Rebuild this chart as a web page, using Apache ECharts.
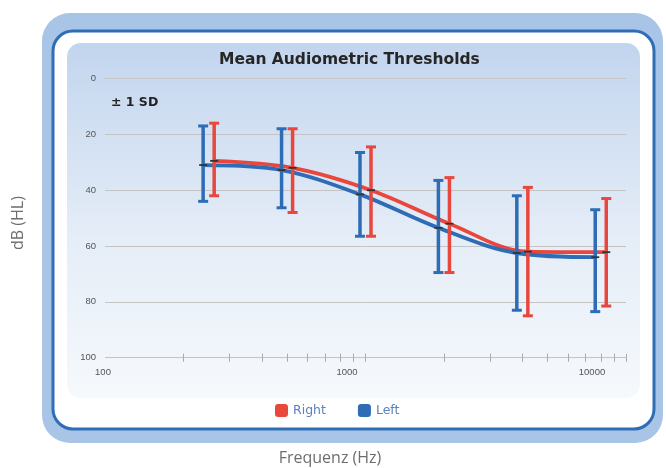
<!DOCTYPE html>
<html>
<head>
<meta charset="utf-8">
<script src="https://cdn.jsdelivr.net/npm/echarts@6/dist/echarts.min.js"></script>
<style>
html,body{margin:0;padding:0;background:#fff;}
#chart{width:666px;height:468px;}
</style>
</head>
<body>
<div id="chart"></div>
<script>
// ---- data ----
const freqs = [250, 500, 1000, 2000, 4000, 8000];
const rightMean = [29.5, 32, 40, 52, 62, 62.2];
const rightSdTop = [16, 18, 24.5, 35.5, 39, 43];
const rightSdBottom = [42, 48, 56.5, 69.5, 85, 81.5];
const leftMean = [31, 32.8, 41.5, 53.5, 62.5, 64];
const leftSdTop = [17, 18, 26.5, 36.5, 42, 47];
const leftSdBottom = [44, 46.3, 56.5, 69.5, 83, 83.5];
const xTickFreqs = [200, 300, 400, 500, 600, 700, 800, 900, 1000,
                    2000, 3000, 4000, 5000, 6000, 7000, 8000, 9000, 10000];
const xLabelValues = [100, 1000, 10000];
const yTicks = [0, 20, 40, 60, 80, 100];

const RED = '#e9463d';
const BLUE = '#2e6cb6';
const DODGE = 1.05;

const chart = echarts.init(document.getElementById('chart'));

function sdItems(means, tops, bottoms, factor) {
  return freqs.map((f, i) => [f * factor, tops[i], bottoms[i], means[i]]);
}
function makeRender(color) {
  return function (params, api) {
    const x = api.value(0);
    const top = api.coord([x, api.value(1)]);
    const bot = api.coord([x, api.value(2)]);
    const mid = api.coord([x, api.value(3)]);
    const cw = 5;
    return {
      type: 'group',
      children: [
        { type: 'line', shape: { x1: top[0], y1: top[1], x2: bot[0], y2: bot[1] },
          style: { stroke: color, lineWidth: 3.5 } },
        { type: 'line', shape: { x1: top[0] - cw, y1: top[1], x2: top[0] + cw, y2: top[1] },
          style: { stroke: color, lineWidth: 3 } },
        { type: 'line', shape: { x1: bot[0] - cw, y1: bot[1], x2: bot[0] + cw, y2: bot[1] },
          style: { stroke: color, lineWidth: 3 } },
        { type: 'line', shape: { x1: mid[0] - 4, y1: mid[1], x2: mid[0] + 4, y2: mid[1] },
          style: { stroke: '#333', lineWidth: 1.8 } }
      ]
    };
  };
}

const labelShift = { l0: 4, l1: 37, l2: 68 };
const rich = {};
Object.keys(labelShift).forEach(k => {
  rich[k] = { fontSize: 9.5, color: '#555', fontFamily: 'Liberation Sans', padding: [0, labelShift[k], 0, 0] };
});

const tickLogs = xTickFreqs.map(v => Math.log10(v));

const option = {
  animation: false,
  backgroundColor: '#fff',
  title: {
    text: 'Mean Audiometric Thresholds',
    left: 219, top: 52, padding: 0,
    textStyle: { fontFamily: 'DejaVu Sans', fontWeight: 'bold', fontSize: 15.5, color: '#262626' }
  },
  legend: {
    data: [
      { name: 'Right', itemStyle: { color: RED } },
      { name: 'Left', itemStyle: { color: BLUE } }
    ],
    icon: 'roundRect',
    left: 275, top: 404, padding: 0,
    itemWidth: 13, itemHeight: 13, itemGap: 32,
    textStyle: { color: '#5c80c0', fontSize: 12.5, fontFamily: 'DejaVu Sans' }
  },
  grid: { left: 105, right: 40, top: 78.5, bottom: 110.3 },
  xAxis: [
    {
      type: 'log', logBase: 10, min: 100, max: 10000,
      position: 'bottom',
      axisLine: { show: true, lineStyle: { color: '#c6c6c6', width: 1 } },
      axisTick: { show: false },
      splitLine: { show: false },
      axisLabel: {
        margin: 10,
        formatter: function (v) {
          const idx = Math.round(Math.log10(v)) - 2;
          if (xLabelValues.indexOf(Math.round(v)) < 0) return '';
          return '{l' + idx + '|' + Math.round(v) + '}';
        },
        rich: rich
      }
    },
    {
      type: 'value', min: 2, max: 4, position: 'bottom',
      axisLine: { show: false }, axisLabel: { show: false }, splitLine: { show: false },
      axisTick: { show: true, inside: true, length: 4, customValues: tickLogs, lineStyle: { color: '#aaa' } }
    },
    {
      type: 'value', min: 2, max: 4, position: 'bottom',
      axisLine: { show: false }, axisLabel: { show: false }, splitLine: { show: false },
      axisTick: { show: true, inside: false, length: 4, customValues: tickLogs, lineStyle: { color: '#aaa' } }
    }
  ],
  yAxis: {
    type: 'value', inverse: true, min: yTicks[0], max: yTicks[yTicks.length - 1], interval: 20,
    axisLine: { show: false }, axisTick: { show: false },
    axisLabel: { fontSize: 9.5, color: '#555', margin: 9, fontFamily: 'Liberation Sans' },
    splitLine: { lineStyle: { color: '#c4c4c4', width: 1 } }
  },
  series: [
    {
      name: 'Right', type: 'line', smooth: 0.35, symbol: 'none', z: 2,
      data: freqs.map((f, i) => [f * DODGE, rightMean[i]]),
      lineStyle: { color: RED, width: 3.8 }, itemStyle: { color: RED }
    },
    {
      name: 'Left', type: 'line', smooth: 0.35, symbol: 'none', z: 3,
      data: freqs.map((f, i) => [f / DODGE, leftMean[i]]),
      lineStyle: { color: BLUE, width: 3.8 }, itemStyle: { color: BLUE }
    },
    {
      name: 'Right SD', type: 'custom', z: 4,
      renderItem: makeRender(RED),
      encode: { x: 0, y: [1, 2] },
      data: sdItems(rightMean, rightSdTop, rightSdBottom, DODGE)
    },
    {
      name: 'Left SD', type: 'custom', z: 4,
      renderItem: makeRender(BLUE),
      encode: { x: 0, y: [1, 2] },
      data: sdItems(leftMean, leftSdTop, leftSdBottom, 1 / DODGE)
    }
  ],
  graphic: [
    { type: 'rect', z: -30, silent: true,
      shape: { x: 42, y: 13, width: 621, height: 430, r: 28 },
      style: { fill: '#a8c4e7' } },
    { type: 'rect', z: -29, silent: true,
      shape: { x: 53, y: 31, width: 601, height: 398, r: 20 },
      style: { fill: '#ffffff', stroke: '#2f6db4', lineWidth: 3 } },
    { type: 'rect', z: -28, silent: true,
      shape: { x: 67, y: 43, width: 573, height: 355, r: 14 },
      style: { fill: new echarts.graphic.LinearGradient(0, 0, 0, 1, [
        { offset: 0, color: '#c2d5ee' },
        { offset: 0.55, color: '#e5edf7' },
        { offset: 1, color: '#f6f9fc' }
      ]) } },
    { type: 'text', z: 10, silent: true, x: 111, y: 103,
      style: { text: '± 1 SD', fill: '#222', font: 'bold 12.5px "DejaVu Sans"', textAlign: 'left', textVerticalAlign: 'middle' } },
    { type: 'text', z: 10, silent: true, x: 18, y: 223, rotation: Math.PI / 2,
      style: { text: 'dB (HL)', fill: '#6e6e6e', font: '16px "Open Sans"', textAlign: 'center', textVerticalAlign: 'middle' } },
    { type: 'text', z: 10, silent: true, x: 330, y: 458,
      style: { text: 'Frequenz (Hz)', fill: '#6e6e6e', font: '16px "Open Sans"', textAlign: 'center', textVerticalAlign: 'middle' } }
  ]
};
chart.setOption(option);
</script>
</body>
</html>
